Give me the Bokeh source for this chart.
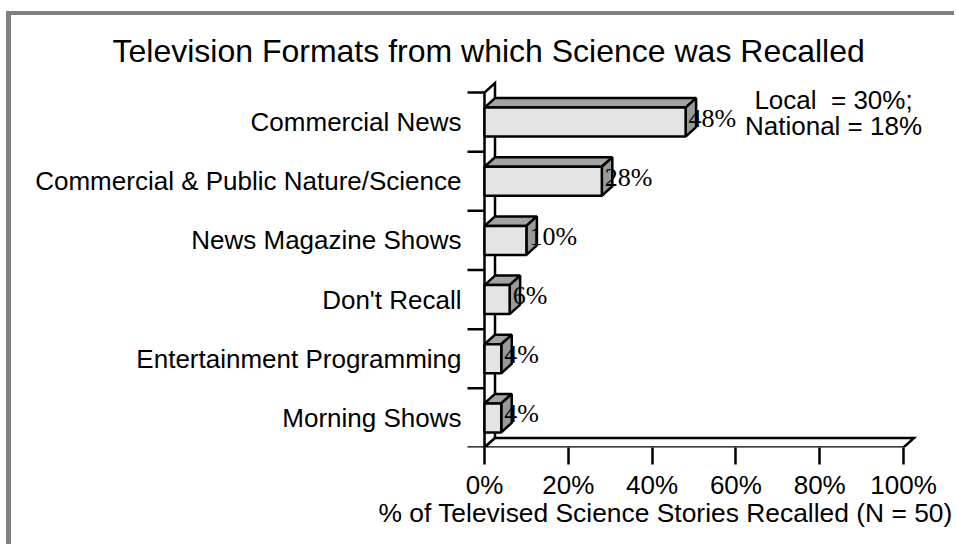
from bokeh.plotting import figure
from bokeh.models import Range1d, FixedTicker, Label, Title
from bokeh.core.properties import value
from bokeh.embed import file_html
from bokeh.resources import INLINE

# ---- data ----
title_text = "Television Formats from which Science was Recalled"
categories = ["Commercial News", "Commercial & Public Nature/Science",
              "News Magazine Shows", "Don't Recall",
              "Entertainment Programming", "Morning Shows"]
percents = [48, 28, 10, 6, 4, 4]
x_ticks = [0, 20, 40, 60, 80, 100]
x_tick_labels = ["0%", "20%", "40%", "60%", "80%", "100%"]
x_label = "% of Televised Science Stories Recalled (N = 50)"
note_lines = ["Local\u00a0 = 30%;", "National = 18%"]

# ---- geometry (style constants) ----
PX_X = 4.19      # px per percent
PX_Y = 59.17     # px per category band
DX = 10.5 / PX_X
DY = 9.5 / PX_Y
HALF = 0.245
LW = 2.5
SANS = "Liberation Sans"
SERIF = "Liberation Serif"

n = len(categories)
pos = [n - 1 - i for i in range(n)]
bounds = [-0.5 + k for k in range(n + 1)]
x_max = x_ticks[-1]
y_lo, y_hi = -0.5, n - 0.5

p = figure(width=954, height=544, output_backend="svg", toolbar_location=None,
           x_range=Range1d(-19 / PX_X, (930 - 484) / PX_X),
           y_range=Range1d(y_lo, y_hi + 17 / PX_Y),
           min_border_left=465, min_border_right=24,
           min_border_top=75, min_border_bottom=97)
p.title.visible = False
p.outline_line_color = None
p.xgrid.visible = False
p.ygrid.visible = False
p.background_fill_color = None
p.border_fill_color = None
p.styles = {
    "background": "linear-gradient(#808080,#808080) 6px 11px / 950px 4px no-repeat, "
                  "linear-gradient(#808080,#808080) 6px 11px / 5px 540px no-repeat, white"
}

# axes
xa = p.xaxis[0]
xa.ticker = FixedTicker(ticks=x_ticks)
xa.major_label_overrides = {t: l for t, l in zip(x_ticks, x_tick_labels)}
xa.axis_line_color = None
xa.major_tick_out = 17
xa.major_tick_in = 0
xa.major_tick_line_width = LW
xa.major_tick_line_color = "black"
xa.minor_tick_line_color = None
xa.major_label_standoff = 5
xa.major_label_text_font = SANS
xa.major_label_text_font_size = "26px"
xa.major_label_text_color = "black"

ya = p.yaxis[0]
ya.ticker = FixedTicker(ticks=pos)
ya.major_label_overrides = {pp: c for pp, c in zip(pos, categories)}
ya.axis_line_color = None
ya.major_tick_line_color = None
ya.minor_tick_line_color = None
ya.major_tick_out = 0
ya.major_tick_in = 0
ya.major_label_standoff = 4
ya.major_label_text_font = SANS
ya.major_label_text_font_size = "26px"
ya.major_label_text_color = "black"

# title and x-axis label as side-panel titles
p.add_layout(Title(text=title_text, align="left", offset=112 - 465, standoff=14,
                   text_font=SANS, text_font_size="32px", text_font_style="normal",
                   text_color="black"), "above")
p.add_layout(Title(text=x_label, align="left", offset=378 - 465, standoff=-14,
                   text_font=SANS, text_font_size="26.4px", text_font_style="normal",
                   text_color="black"), "below")

# left wall and floor
p.patches(xs=[[0, DX, DX, 0], [0, x_max, x_max + DX, DX]],
          ys=[[y_lo, y_lo + DY, y_hi + DY, y_hi], [y_lo, y_lo, y_lo + DY, y_lo + DY]],
          fill_color="white", line_color="black", line_width=LW, line_join="miter")

# category boundary ticks
p.segment(x0=[-17 / PX_X] * len(bounds), x1=[0] * len(bounds), y0=bounds, y1=bounds,
          line_color="black", line_width=LW)

# 3D bars
top_xs, top_ys, side_xs, side_ys = [], [], [], []
for v, y in zip(percents, pos):
    t, b = y + HALF, y - HALF
    top_xs.append([0, v, v + DX, DX])
    top_ys.append([t, t, t + DY, t + DY])
    side_xs.append([v, v, v + DX, v + DX])
    side_ys.append([b, t, t + DY, b + DY])
p.patches(xs=top_xs, ys=top_ys, fill_color="#a3a3a3", line_color="black", line_width=LW)
p.patches(xs=side_xs, ys=side_ys, fill_color="#9a9a9a", line_color="black", line_width=LW)
p.quad(left=[0] * n, right=percents, bottom=[y - HALF for y in pos],
       top=[y + HALF for y in pos], fill_color="#e4e4e4", line_color="black", line_width=LW)

# value labels
p.text(x=percents, y=pos, text=[f"{v}%" for v in percents], x_offset=3, y_offset=-4,
       text_font=value(SERIF), text_font_size="26px", text_baseline="middle",
       text_align="left", text_color="black")

# note
p.add_layout(Label(x=83.3, y=5.38, text=note_lines[0], text_align="center",
                   text_baseline="alphabetic", text_font=SANS, text_font_size="26px",
                   text_color="black"))
p.add_layout(Label(x=83.3, y=4.94, text=note_lines[1], text_align="center",
                   text_baseline="alphabetic", text_font=SANS, text_font_size="26px",
                   text_color="black"))

open("out.html", "w").write(file_html(p, INLINE))
